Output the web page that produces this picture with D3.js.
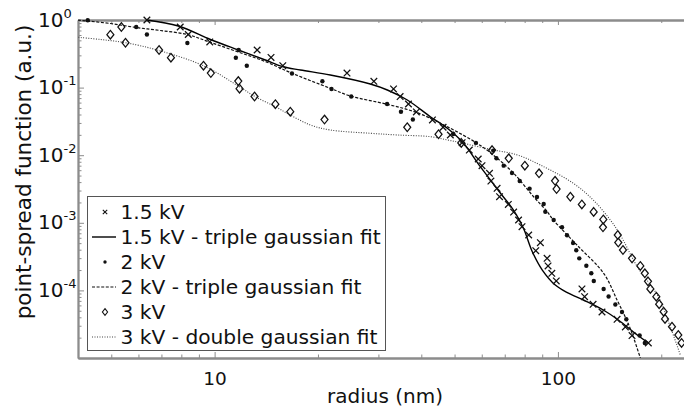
<!DOCTYPE html>
<html><head><meta charset="utf-8">
<script src="https://cdn.jsdelivr.net/npm/d3@7"></script>
<style>
body{margin:0;background:#fff}
svg{display:block}
text{font-family:"DejaVu Sans",Verdana,sans-serif;fill:#111}
</style>
</head><body>
<svg id="c" width="684" height="413"></svg>
<script>
// ---- data (radius in nm, point-spread function in a.u.) ----
const r15 = [6.35, 7.94, 8.38, 9.68, 13.3, 14.6, 15.8, 24.3, 29.1, 33.2, 34.7, 36.7, 38.7, 43.1, 46.3, 48.6, 52.6, 55.2, 58.6, 60.1, 63.2, 63.8, 66.5, 67.6, 71.7, 74.3, 76.8, 78.6, 82.2, 88.9, 86.2, 93.0, 93.6, 96.0, 98.9, 117.5, 119.6, 126.6, 134.4, 148.7, 157.2, 164.4, 183.4];
const psf15 = [1.0, 0.788, 0.610, 0.473, 0.360, 0.279, 0.211, 0.164, 0.124, 0.0954, 0.0738, 0.0572, 0.0436, 0.0332, 0.0259, 0.0199, 0.0153, 0.0119, 0.00879, 0.0070, 0.0054, 0.00415, 0.00324, 0.00243, 0.00187, 0.00144, 0.00110, 0.000875, 0.000660, 0.000508, 0.000387, 0.000298, 0.000230, 0.000179, 0.000138, 0.000105, 8.07e-5, 6.23e-5, 4.79e-5, 3.74e-5, 2.88e-5, 2.15e-5, 1.67e-5];

const r2 = [4.27, 5.91, 6.35, 8.33, 11.75, 11.53, 12.41, 16.8, 20.6, 21.9, 25.0, 31.8, 34.9, 37.8, 49.6, 57.7, 64.8, 66.2, 69.5, 73.5, 77.4, 82.7, 86.9, 90.9, 91.9, 97.2, 102.8, 106.3, 110.7, 113.1, 115.4, 121.0, 125.1, 127.2, 135.9, 140.5, 147.0, 153.7, 158.2, 173.0, 179.1];
const psf2 = [0.99, 0.788, 0.610, 0.457, 0.360, 0.277, 0.211, 0.162, 0.124, 0.0954, 0.0738, 0.0572, 0.0440, 0.0337, 0.0206, 0.0152, 0.0117, 0.0090, 0.0070, 0.00545, 0.00415, 0.0032, 0.00241, 0.0019, 0.00146, 0.0011, 0.000858, 0.000653, 0.000503, 0.000392, 0.000298, 0.000232, 0.000179, 0.000138, 0.000105, 8.13e-5, 6.19e-5, 4.79e-5, 3.74e-5, 2.15e-5, 1.67e-5];

const r3 = [5.35, 4.97, 5.50, 6.89, 7.46, 9.28, 9.75, 11.72, 11.82, 13.07, 15.03, 16.61, 20.9, 36.4, 44.9, 52.3, 64.3, 71.9, 80.1, 88.1, 98.1, 99.1, 108.7, 117.4, 127.1, 135.6, 135.3, 149.4, 149.9, 154.7, 164.4, 173.8, 179.1, 183.0, 185.9, 193.5, 197.2, 203.2, 205.1, 214.9, 224.2, 229.2];
const psf3 = [0.788, 0.606, 0.461, 0.360, 0.277, 0.211, 0.164, 0.125, 0.0963, 0.0738, 0.0568, 0.0440, 0.0337, 0.0259, 0.0204, 0.0152, 0.0119, 0.0090, 0.0070, 0.0054, 0.00418, 0.00316, 0.00243, 0.00187, 0.00145, 0.00112, 0.000858, 0.00066, 0.000511, 0.000396, 0.000298, 0.00023, 0.000179, 0.000136, 0.000105, 8.07e-5, 6.25e-5, 4.84e-5, 3.78e-5, 2.9e-5, 2.19e-5, 1.67e-5];

const fit15R = [6.34, 7.84, 9.72, 11.72, 14.05, 15.75, 17.77, 21.73, 28.41, 31.85, 36.42, 42.5, 47.63, 53.03, 59.43, 67.96, 74.15, 79.3, 84.22, 90.07, 98.26, 106.5, 118.6, 135.6, 149.9, 170.3, 183.4];
const fit15V = [1.0, 0.815, 0.515, 0.360, 0.256, 0.205, 0.182, 0.1537, 0.1131, 0.0922, 0.0656, 0.0371, 0.025, 0.01515, 0.00676, 0.00276, 0.00155, 0.000838, 0.000374, 0.0002, 0.00012, 9.25e-5, 7.21e-5, 5.13e-5, 3.65e-5, 2.19e-5, 1.67e-5];

const fit2R = [4.0, 4.97, 5.91, 6.95, 8.33, 9.65, 11.72, 14.05, 16.81, 21.73, 24.85, 31.85, 38.94, 47.63, 58.13, 65.73, 74.3, 84.96, 93.1, 97.0, 113.6, 135.9, 148.7, 158.2, 164.4, 173.8];
const fit2V = [0.995, 0.888, 0.774, 0.699, 0.610, 0.473, 0.336, 0.243, 0.1628, 0.0976, 0.0751, 0.0566, 0.0425, 0.0264, 0.015, 0.0095, 0.0054, 0.00243, 0.00146, 0.0011, 0.000469, 0.000179, 7.21e-5, 3.74e-5, 2.32e-5, 1e-5];

const fit3R = [4.01, 4.645, 5.504, 6.887, 9.27, 11.72, 13.14, 15.03, 16.61, 19.0, 21.73, 28.41, 34.06, 42.5, 47.63, 53.03, 63.55, 76.15, 88.86, 110.9, 126.8, 142.1, 152.0, 170.3, 196.1, 212.5, 227.3];
const fit3V = [0.555, 0.515, 0.461, 0.354, 0.211, 0.1056, 0.0733, 0.0522, 0.0393, 0.028, 0.0236, 0.0211, 0.0199, 0.0188, 0.0168, 0.015, 0.0122, 0.0101, 0.00716, 0.00384, 0.00217, 0.0011, 0.00066, 0.000224, 8.07e-5, 2.9e-5, 1.11e-5];

const xMajor = [10, 100];
const xMinor = [5, 6, 7, 8, 9, 20, 30, 40, 50, 60, 70, 80, 90, 200];
const yMajor = [1, 0.1, 0.01, 0.001, 0.0001];
const yExp = ["0", "-1", "-2", "-3", "-4"];
const legendLabels = ["1.5 kV", "1.5 kV - triple gaussian fit", "2 kV", "2 kV - triple gaussian fit", "3 kV", "3 kV - double gaussian fit"];

// ---- layout ----
const svg = d3.select("#c");
const L = 78, T = 20, B = 358;
const x = d3.scaleLog().domain([4, 250]).range([L, L + 343.3 * Math.log10(250 / 4)]);
const y = d3.scaleLog().domain([1e-5, 1]).range([B, T]);
const axisCol = "#8c8c8c";

svg.append("defs").append("clipPath").attr("id", "clip")
  .append("rect").attr("x", L).attr("y", T - 6).attr("width", 700).attr("height", B - T + 6);

function styleAxis(g) {
  g.selectAll("path.domain").attr("stroke", axisCol).attr("stroke-width", 1.8);
  g.selectAll(".tick line").attr("stroke", axisCol).attr("stroke-width", 1);
}
const yMinor = y.ticks().filter(v => !yMajor.some(m => Math.abs(m - v) / m < 1e-6));

svg.append("g").attr("transform", `translate(0,${B})`)
  .call(d3.axisBottom(x).tickValues(xMinor).tickSize(-3.5).tickSizeOuter(0).tickFormat(""))
  .call(styleAxis);
const gxM = svg.append("g").attr("transform", `translate(0,${B})`)
  .call(d3.axisBottom(x).tickValues(xMajor).tickSize(-6).tickSizeOuter(0).tickFormat(d3.format("d")))
  .call(styleAxis);
gxM.selectAll("text").attr("y", 27).attr("dy", null)
  .style("font-family", '"DejaVu Sans",Verdana,sans-serif').style("font-size", "18.5px").attr("fill", "#111");

svg.append("g").attr("transform", `translate(0,${T})`)
  .call(d3.axisTop(x).tickValues(xMinor).tickSize(-3).tickSizeOuter(0).tickFormat(""))
  .call(styleAxis);
svg.append("g").attr("transform", `translate(0,${T})`)
  .call(d3.axisTop(x).tickValues(xMajor).tickSize(-5).tickSizeOuter(0).tickFormat(""))
  .call(styleAxis);

svg.append("g").attr("transform", `translate(${L},0)`)
  .call(d3.axisLeft(y).tickValues(yMinor).tickSize(-3.5).tickSizeOuter(0).tickFormat(""))
  .call(styleAxis);
svg.append("g").attr("transform", `translate(${L},0)`)
  .call(d3.axisLeft(y).tickValues(yMajor).tickSize(-6).tickSizeOuter(0).tickFormat(""))
  .call(styleAxis);

// y tick labels with superscripts
yMajor.forEach((v, i) => {
  const t = svg.append("text").attr("x", 38).attr("y", y(v) + 6.5).style("font-size", "20px");
  t.append("tspan").text("10");
  t.append("tspan").attr("dy", -9).style("font-size", "13px").text(yExp[i]);
});

// axis titles
svg.append("text").attr("x", 385).attr("y", 403).attr("text-anchor", "middle")
  .style("font-size", "20px").text("radius (nm)");
svg.append("text").attr("transform", "translate(31,172) rotate(-90)").attr("text-anchor", "middle")
  .style("font-size", "21.5px").text("point-spread function (a.u.)");

// ---- plot ----
const plot = svg.append("g").attr("clip-path", "url(#clip)");
const line = d3.line().x(d => x(d[0])).y(d => y(d[1])).curve(d3.curveCatmullRom.alpha(0.5));

const fits = [
  {R: fit15R, V: fit15V, dash: null, col: "#000", w: 1.4},
  {R: fit2R, V: fit2V, dash: "3,1.6", col: "#111", w: 1.2},
  {R: fit3R, V: fit3V, dash: "1,1.5", col: "#444", w: 1.1}
];
fits.forEach(f => {
  plot.append("path").datum(f.R.map((r, i) => [r, f.V[i]]))
    .attr("d", line).attr("fill", "none").attr("stroke", f.col)
    .attr("stroke-width", f.w).attr("stroke-dasharray", f.dash);
});

const crossPath = s => `M${-s},${-s}L${s},${s}M${s},${-s}L${-s},${s}`;
const diamondPath = (w, h) => `M0,${-h}L${w},0L0,${h}L${-w},0Z`;

plot.append("g").selectAll("path").data(r15.map((r, i) => [r, psf15[i]])).join("path")
  .attr("transform", d => `translate(${x(d[0])},${y(d[1])})`)
  .attr("d", crossPath(3.3)).attr("stroke", "#111").attr("stroke-width", 1.25).attr("fill", "none");

plot.append("g").selectAll("circle").data(r2.map((r, i) => [r, psf2[i]])).join("circle")
  .attr("cx", d => x(d[0])).attr("cy", d => y(d[1])).attr("r", 2.2).attr("fill", "#111");

plot.append("g").selectAll("path").data(r3.map((r, i) => [r, psf3[i]])).join("path")
  .attr("transform", d => `translate(${x(d[0])},${y(d[1])})`)
  .attr("d", diamondPath(3.5, 4.3)).attr("stroke", "#111").attr("stroke-width", 1.25).attr("fill", "none");

// ---- legend ----
const lg = svg.append("g");
lg.append("rect").attr("x", 87.5).attr("y", 196.5).attr("width", 298).attr("height", 154)
  .attr("fill", "#fff").attr("stroke", "#555").attr("stroke-width", 1);
legendLabels.forEach((lab, i) => {
  const cy = 212 + 25 * i;
  const g = lg.append("g");
  if (i === 0) g.append("path").attr("transform", `translate(105,${cy})`).attr("d", crossPath(2.2))
    .attr("stroke", "#111").attr("stroke-width", 1.1);
  if (i === 2) g.append("circle").attr("cx", 105).attr("cy", cy).attr("r", 1.7).attr("fill", "#111");
  if (i === 4) g.append("path").attr("transform", `translate(105,${cy})`).attr("d", diamondPath(2.6, 3.4))
    .attr("stroke", "#111").attr("stroke-width", 1.1).attr("fill", "none");
  if (i % 2 === 1) {
    const f = fits[(i - 1) / 2];
    g.append("line").attr("x1", 92).attr("x2", 116).attr("y1", cy).attr("y2", cy)
      .attr("stroke", f.col).attr("stroke-width", f.w).attr("stroke-dasharray", f.dash);
  }
  g.append("text").attr("x", 120.5).attr("y", cy + 6.5).style("font-size", "20.2px").text(lab);
});
</script>
</body></html>
